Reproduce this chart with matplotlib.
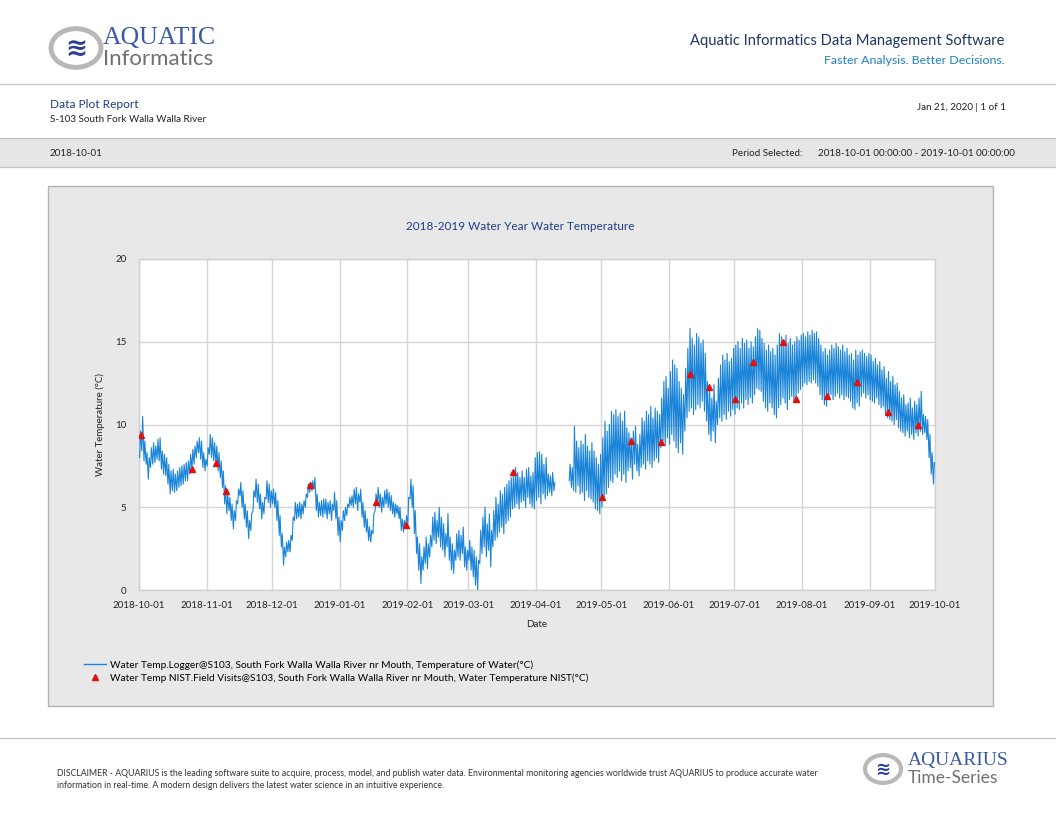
import numpy as np
import matplotlib
matplotlib.use("Agg")
import matplotlib.pyplot as plt
from matplotlib.patches import Rectangle, Circle
from matplotlib.lines import Line2D

nan = np.nan

# ---------------- data ----------------
# daily minimum / maximum of the logger series, one value per day
oct_low = [8.0, 8.4, 7.8, 7.6, 6.7, 7.4, 7.6, 7.7, 7.9, 7.8, 7.3, 7.0, 6.9, 6.4, 5.8, 6.0,
           5.9, 6.0, 6.2, 6.3, 6.4, 6.6, 6.6, 7.0, 7.3, 7.6, 8.0, 8.3, 7.9, 7.4, 7.2]
oct_high = [9.6, 10.5, 9.0, 8.3, 8.0, 8.6, 8.9, 8.7, 9.1, 9.2, 8.4, 8.2, 8.0, 7.6, 7.2, 7.3,
            7.0, 7.2, 7.4, 7.5, 7.6, 7.7, 7.8, 8.2, 8.5, 8.7, 9.0, 9.2, 9.0, 8.3, 7.9]
nov_low = [7.5, 8.2, 8.0, 7.8, 7.6, 7.2, 6.8, 6.2, 5.2, 4.6, 4.8, 4.2, 3.7, 4.2, 5.2,
           5.7, 5.0, 4.3, 3.8, 3.1, 3.6, 4.8, 5.6, 5.3, 4.9, 4.3, 4.6, 5.5, 5.3, 5.0]
nov_high = [8.6, 9.4, 9.2, 8.9, 8.7, 8.3, 7.8, 7.2, 6.3, 5.8, 5.6, 5.2, 4.8, 5.4, 6.1,
            6.5, 6.0, 5.2, 4.8, 4.2, 4.6, 6.0, 6.7, 6.4, 5.8, 5.3, 5.6, 6.6, 6.4, 6.0]
dec_low = [5.2, 5.0, 4.2, 3.3, 2.6, 1.5, 2.0, 2.3, 2.3, 3.0, 4.2, 4.3, 4.4, 4.3, 4.6, 5.0,
           5.6, 5.9, 6.0, 6.1, 4.8, 4.4, 4.5, 4.4, 4.6, 4.3, 4.6, 4.2, 4.8, 4.3, 3.3]
dec_high = [6.1, 5.9, 5.4, 4.5, 3.4, 2.6, 2.9, 3.0, 3.3, 4.4, 5.3, 5.2, 5.3, 5.2, 5.4, 5.8,
            6.4, 6.5, 6.6, 6.8, 5.8, 5.3, 5.4, 5.5, 5.5, 5.3, 5.4, 5.2, 5.9, 5.4, 4.4]
jan_low = [2.9, 3.6, 4.2, 4.5, 5.0, 5.1, 5.0, 5.2, 4.8, 5.3, 4.4, 3.8, 3.5, 3.0, 2.9, 3.4,
           4.8, 5.3, 5.0, 4.7, 5.0, 5.2, 5.0, 4.8, 4.6, 4.4, 4.6, 4.3, 3.6, 3.5, 3.8]
jan_high = [4.2, 4.8, 5.0, 5.2, 5.6, 5.7, 6.1, 6.2, 5.8, 6.1, 5.3, 4.8, 4.3, 3.8, 3.6, 4.6,
            5.8, 6.2, 5.8, 5.6, 6.0, 6.1, 5.9, 5.7, 5.3, 5.2, 5.1, 5.0, 4.3, 4.2, 4.5]
feb_low = [4.0, 5.5, 5.0, 3.4, 2.2, 1.2, 0.4, 1.2, 1.6, 1.3, 2.0, 2.6, 3.0, 2.8,
           3.2, 2.6, 2.4, 2.0, 2.6, 1.8, 1.2, 1.0, 1.8, 2.0, 1.8, 2.2, 1.4, 1.2]
feb_high = [5.6, 6.7, 6.3, 4.8, 3.2, 2.8, 2.0, 2.6, 3.2, 2.8, 3.3, 4.4, 4.7, 4.2,
            5.0, 4.4, 4.0, 3.4, 4.6, 3.2, 2.8, 2.4, 3.4, 3.6, 3.3, 3.8, 2.6, 2.4]
mar_low = [1.8, 1.2, 0.8, 0.3, 0.0, 1.6, 2.2, 2.6, 2.0, 2.4, 1.4, 2.6, 3.0, 3.2, 3.5, 3.8,
           3.4, 4.0, 4.2, 4.4, 4.9, 5.0, 5.2, 4.9, 5.3, 5.4, 5.0, 5.6, 5.2, 5.0, 4.9]
mar_high = [3.0, 2.6, 2.4, 2.0, 1.8, 3.6, 4.4, 5.0, 4.0, 4.6, 3.6, 4.8, 5.6, 5.2, 6.0, 5.8,
            6.2, 6.4, 6.6, 6.8, 7.0, 7.4, 7.1, 6.8, 7.2, 6.8, 7.3, 7.4, 6.9, 7.1, 8.0]
apr_low = [5.4, 5.6, 5.2, 5.8, 5.5, 5.7, 5.9, 5.7, 6.0, nan, nan, nan, nan, nan, nan,
           6.6, 6.2, 6.0, 5.9, 6.3, 5.8, 5.9, 5.4, 6.0, 5.6, 5.5, 5.3, 4.9, 4.8, 4.6]
apr_high = [8.3, 8.35, 8.2, 7.6, 8.0, 7.0, 6.9, 7.1, 6.5, nan, nan, nan, nan, nan, nan,
            7.6, 7.4, 9.9, 9.0, 8.6, 9.0, 8.8, 9.4, 8.7, 8.4, 8.9, 8.4, 8.0, 7.6, 8.2]
may_low = [5.0, 5.6, 5.8, 6.2, 6.6, 6.5, 7.0, 6.8, 7.2, 6.6, 7.0, 6.5, 7.2, 7.4, 6.7, 7.6,
           7.2, 6.9, 7.4, 7.6, 7.3, 7.8, 7.6, 7.4, 7.8, 8.0, 7.7, 8.6, 9.0, 8.7, 9.2]
may_high = [9.2, 10.2, 9.6, 10.0, 10.8, 10.6, 10.9, 10.5, 10.7, 10.2, 10.8, 9.8, 9.5, 9.2,
            9.6, 9.9, 8.8, 9.4, 10.4, 10.2, 10.8, 10.6, 11.1, 10.4, 11.0, 10.8, 10.6, 11.6,
            12.6, 12.9, 12.2]
jun_low = [8.8, 9.4, 9.0, 8.6, 8.3, 8.9, 8.2, 9.6, 10.4, 10.8, 11.0, 10.6, 10.9, 11.2, 11.0,
           11.4, 10.8, 10.2, 9.4, 9.0, 9.6, 8.9, 10.0, 10.4, 10.2, 10.6, 10.3, 10.8, 10.5, 10.9]
jun_high = [13.2, 13.9, 13.6, 13.4, 12.6, 12.2, 11.8, 13.4, 14.6, 15.8, 15.2, 14.8, 15.5,
            15.3, 14.9, 15.1, 14.3, 12.6, 12.0, 11.6, 12.4, 11.4, 12.8, 13.6, 14.2, 13.9,
            14.3, 13.8, 14.0, 14.6]
jul_low = [10.6, 11.0, 10.9, 11.3, 11.0, 11.5, 11.2, 11.6, 11.3, 11.8, 12.2, 12.1, 12.0, 11.4,
           11.0, 10.8, 11.3, 11.0, 10.6, 10.4, 11.0, 11.2, 11.6, 11.3, 10.9, 11.5, 11.7, 11.4,
           11.6, 11.9, 12.1]
jul_high = [14.8, 15.0, 14.6, 15.2, 14.9, 15.1, 14.6, 15.0, 14.7, 15.3, 15.8, 15.7, 15.2, 14.9,
            14.5, 14.8, 14.4, 14.6, 14.2, 14.8, 15.5, 15.3, 15.1, 15.4, 14.9, 15.2, 14.8, 15.0,
            15.3, 15.1, 15.4]
aug_low = [12.3, 12.5, 12.4, 12.6, 12.5, 12.7, 12.5, 12.3, 11.8, 11.5, 11.2, 11.1, 11.6, 11.8,
           11.5, 11.7, 11.9, 11.6, 11.8, 11.5, 11.7, 11.6, 11.4, 11.0, 10.9, 11.3, 11.1, 11.7,
           11.9, 11.6, 11.8]
aug_high = [15.5, 15.3, 15.6, 15.4, 15.7, 15.5, 15.6, 15.2, 14.8, 14.4, 14.6, 14.2, 14.5, 14.8,
            14.6, 14.9, 14.7, 14.5, 14.8, 14.4, 14.6, 14.2, 14.3, 13.9, 14.5, 14.2, 14.4, 14.5,
            14.3, 14.1, 14.3]
sep_low = [11.5, 11.4, 11.3, 11.6, 11.2, 11.0, 11.1, 10.6, 10.4, 10.3, 10.2, 10.0, 10.3, 9.8,
           9.6, 9.5, 9.3, 9.6, 9.2, 9.4, 9.1, 9.5, 9.3, 9.6, 9.4, 9.5, 9.1, 8.0, 7.0, 6.4]
sep_high = [14.2, 13.8, 14.0, 13.6, 13.8, 13.3, 13.5, 12.8, 13.2, 12.6, 12.9, 12.4, 12.5, 12.0,
            11.6, 11.8, 11.2, 11.3, 11.6, 11.0, 11.4, 11.2, 11.6, 12.0, 10.6, 10.5, 10.3, 9.4,
            8.3, 7.7]
series_start = "2018-10-01"
series_end_time = "2019-10-01T00:00"
series_end_value = 7.5

# field visits (NIST thermometer)
visit_times = ["2018-10-01T20:00", "2018-10-25T10:00", "2018-11-05T10:00", "2018-11-09T18:00",
               "2018-12-18T14:00", "2019-01-17T12:00", "2019-01-31T14:00", "2019-03-21T14:00",
               "2019-05-01T07:00", "2019-05-14T10:00", "2019-05-28T07:00", "2019-06-10T12:00",
               "2019-06-19T07:00", "2019-07-01T07:00", "2019-07-09T10:00", "2019-07-23T10:00",
               "2019-07-29T03:00", "2019-08-12T07:00", "2019-08-26T07:00", "2019-09-09T07:00",
               "2019-09-23T07:00"]
visit_values = [9.37, 7.33, 7.65, 5.96, 6.33, 5.32, 3.94, 7.14, 5.61, 9.01, 8.93, 13.05,
                12.26, 11.54, 13.76, 14.96, 11.52, 11.72, 12.55, 10.74, 9.94]

month_ticks = ["2018-10-01", "2018-11-01", "2018-12-01", "2019-01-01", "2019-02-01",
               "2019-03-01", "2019-04-01", "2019-05-01", "2019-06-01", "2019-07-01",
               "2019-08-01", "2019-09-01", "2019-10-01"]
y_ticks = [0, 5, 10, 15, 20]

logger_label = "Water Temp.Logger@S103, South Fork Walla Walla River nr Mouth, Temperature of Water(°C)"
visit_label = "Water Temp NIST.Field Visits@S103, South Fork Walla Walla River nr Mouth, Water Temperature NIST(°C)"

# ---------------- build series ----------------
low = np.array(oct_low + nov_low + dec_low + jan_low + feb_low + mar_low + apr_low +
               may_low + jun_low + jul_low + aug_low + sep_low, dtype=float)
high = np.array(oct_high + nov_high + dec_high + jan_high + feb_high + mar_high + apr_high +
                may_high + jun_high + jul_high + aug_high + sep_high, dtype=float)
n = min(len(low), len(high))
low, high = low[:n], high[:n]
days = np.datetime64(series_start, "m") + np.arange(n) * np.timedelta64(1, "D")
times = np.empty(2 * n + 1, dtype="datetime64[m]")
vals = np.empty(2 * n + 1, dtype=float)
times[0:2 * n:2] = days + np.timedelta64(7 * 60, "m")
times[1:2 * n:2] = days + np.timedelta64(16 * 60, "m")
vals[0:2 * n:2] = low
vals[1:2 * n:2] = high
times[-1] = np.datetime64(series_end_time, "m")
vals[-1] = series_end_value

vt = np.array(visit_times, dtype="datetime64[m]")
vv = np.array(visit_values, dtype=float)

# ---------------- figure ----------------
W, H = 1056, 816
plt.rcParams["font.family"] = ["Lato", "DejaVu Sans"]
fig = plt.figure(figsize=(W / 100, H / 100), dpi=100)
fig.patch.set_facecolor("white")


def fx(x):
    return x / W


def fy(y):
    return 1 - y / H


def hline(y, color="#c8c8c8", lw=1.0):
    fig.add_artist(Line2D([0, 1], [fy(y), fy(y)], color=color, lw=lw,
                          transform=fig.transFigure, zorder=-1))


NAVY = "#1f3c88"
TEAL = "#1f7fc0"
LINE_BLUE = "#1a84d8"

# header
hline(84)
# logo
fig.add_artist(Circle((fx(76), fy(48)), 25 / W, transform=fig.transFigure,
                      facecolor="white", edgecolor="#b8b8b8", lw=3.5))
fig.text(fx(76), fy(49), "≋", fontsize=19, color="#2b3f95", ha="center", va="center",
         family="DejaVu Sans", fontweight="bold")
fig.text(fx(103), fy(38), "AQUATIC", fontsize=18.5, color="#3a5aa8", ha="left", va="center",
         family="Liberation Serif")
fig.text(fx(103), fy(59), "Informatics", fontsize=16, color="#707070", ha="left", va="center")
fig.text(fx(1005), fy(41), "Aquatic Informatics Data Management Software", fontsize=10.6,
         color="#1f3566", ha="right", va="center")
fig.text(fx(1005), fy(60), "Faster Analysis. Better Decisions.", fontsize=8.9,
         color=TEAL, ha="right", va="center")

# report info
fig.text(fx(50), fy(105), "Data Plot Report", fontsize=8.6, color=NAVY, ha="left", va="center")
fig.text(fx(50), fy(120), "S-103 South Fork Walla Walla River", fontsize=7.1, color="#222222",
         ha="left", va="center")
fig.text(fx(1006), fy(107), "Jan 21, 2020 | 1 of 1", fontsize=7.1, color="#222222",
         ha="right", va="center")

# grey band
fig.add_artist(Rectangle((0, fy(167)), 1, 29 / H, transform=fig.transFigure,
                         facecolor="#e6e6e6", edgecolor="none", zorder=-2))
hline(138, "#c4c4c4")
hline(167, "#c4c4c4")
fig.text(fx(50), fy(153), "2018-10-01", fontsize=7.1, color="#222222", ha="left", va="center")
fig.text(fx(803), fy(153), "Period Selected:", fontsize=7.1, color="#222222", ha="right",
         va="center")
fig.text(fx(1015), fy(153), "2018-10-01 00:00:00 - 2019-10-01 00:00:00", fontsize=7.1,
         color="#222222", ha="right", va="center")

# chart panel (drawn below the axes)
fig.add_artist(Rectangle((fx(48), fy(706)), (993 - 48) / W, (706 - 186) / H,
                         transform=fig.transFigure, facecolor="#e8e8e8",
                         edgecolor="#b4b4b4", lw=1.0, zorder=-2))
fig.text(fx(520), fy(226), "2018-2019 Water Year Water Temperature", fontsize=8.5,
         color=NAVY, ha="center", va="center")

ax = fig.add_axes([fx(139), fy(590), (935 - 139) / W, (590 - 259) / H])
ax.set_zorder(1)
ax.set_facecolor("white")
ax.plot(times, vals, color=LINE_BLUE, lw=0.8, zorder=3)
ax.plot(vt, vv, linestyle="none", marker="^", markersize=5, color="#e01010",
        markeredgecolor="#e01010", zorder=4)

xt = np.array(month_ticks, dtype="datetime64[D]")
ax.set_xlim(xt[0], xt[-1])
ax.set_ylim(y_ticks[0], y_ticks[-1])
ax.set_xticks(xt)
ax.set_xticklabels(month_ticks)
ax.set_yticks(y_ticks)
ax.grid(True, color="#d6d6d6", lw=1.0, zorder=0)
ax.set_axisbelow(True)
for s in ax.spines.values():
    s.set_color("#d0d0d0")
    s.set_linewidth(1.0)
ax.tick_params(length=0, labelsize=7, colors="#222222")
ax.tick_params(axis="x", pad=8)
ax.tick_params(axis="y", pad=9)
ax.set_xlabel("Date", fontsize=7, color="#222222", labelpad=7)
ax.set_ylabel("Water Temperature (°C)", fontsize=7, color="#222222", labelpad=7)

# legend
h1 = Line2D([], [], color=LINE_BLUE, lw=1.0)
h2 = Line2D([], [], linestyle="none", marker="^", markersize=5, color="#e01010")
fig.legend([h1, h2], [logger_label, visit_label], loc="upper left",
           bbox_to_anchor=(fx(79), fy(655)), frameon=False, fontsize=7.3,
           handlelength=2.2, handletextpad=0.4, labelspacing=0.35, borderpad=0)

# footer
hline(738)
fig.text(fx(57), fy(774),
         "DISCLAIMER - AQUARIUS is the leading software suite to acquire, process, model, and publish water data. "
         "Environmental monitoring agencies worldwide trust AQUARIUS to produce accurate water",
         fontsize=6.3, color="#333333", ha="left", va="center")
fig.text(fx(57), fy(786),
         "information in real-time. A modern design delivers the latest water science in an intuitive experience.",
         fontsize=6.3, color="#333333", ha="left", va="center")
fig.add_artist(Circle((fx(883), fy(769)), 18 / W, transform=fig.transFigure,
                      facecolor="white", edgecolor="#b8b8b8", lw=3))
fig.text(fx(883), fy(770), "≋", fontsize=13, color="#2b3f95", ha="center", va="center",
         family="DejaVu Sans", fontweight="bold")
fig.text(fx(908), fy(761), "AQUARIUS", fontsize=14, color="#3a5aa8", ha="left", va="center",
         family="Liberation Serif")
fig.text(fx(908), fy(778), "Time-Series", fontsize=12.5, color="#707070", ha="left", va="center")

fig.savefig("out.png", dpi=100, facecolor="white")
